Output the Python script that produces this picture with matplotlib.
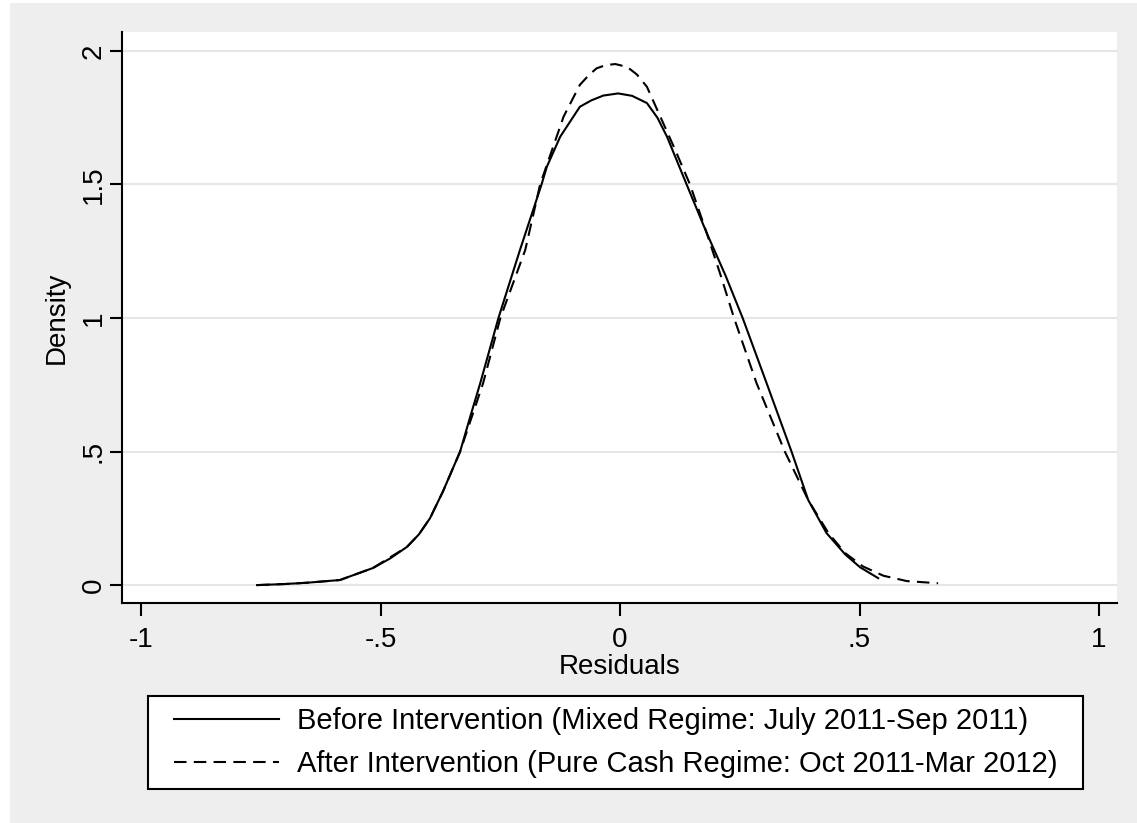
import matplotlib
matplotlib.use("Agg")
import matplotlib.pyplot as plt
from matplotlib.patches import Rectangle

plt.rcParams["font.family"] = ["Liberation Sans", "DejaVu Sans"]

# kernel density of residuals
before_x = [-0.758, -0.70, -0.653, -0.585, -0.516, -0.48, -0.445, -0.42, -0.397, -0.37,
            -0.334, -0.313, -0.292, -0.254, -0.209, -0.164, -0.153, -0.125, -0.084, -0.06,
            -0.035, -0.004, 0.025, 0.056, 0.078, 0.098, 0.139, 0.181, 0.22, 0.256,
            0.306, 0.358, 0.393, 0.431, 0.47, 0.501, 0.539]
before_d = [0.0, 0.004, 0.009, 0.019, 0.064, 0.10, 0.143, 0.19, 0.25, 0.35,
            0.5, 0.63, 0.756, 1.0, 1.255, 1.5, 1.566, 1.679, 1.791, 1.815,
            1.833, 1.841, 1.832, 1.805, 1.75, 1.679, 1.5, 1.318, 1.16, 1.0,
            0.756, 0.5, 0.318, 0.195, 0.115, 0.067, 0.026]

after_x = [-0.758, -0.70, -0.653, -0.585, -0.516, -0.445, -0.42, -0.397, -0.37, -0.334,
           -0.286, -0.25, -0.198, -0.167, -0.118, -0.084, -0.065, -0.049, -0.03, -0.01,
           0.015, 0.035, 0.056, 0.087, 0.115, 0.146, 0.181, 0.21, 0.238, 0.285,
           0.344, 0.393, 0.435, 0.47, 0.507, 0.55, 0.599, 0.664]
after_d = [0.0, 0.004, 0.009, 0.019, 0.064, 0.143, 0.19, 0.25, 0.35, 0.5,
           0.756, 1.0, 1.255, 1.5, 1.754, 1.873, 1.91, 1.935, 1.947, 1.951,
           1.94, 1.912, 1.866, 1.742, 1.63, 1.5, 1.318, 1.16, 1.0, 0.756,
           0.5, 0.318, 0.195, 0.12, 0.07, 0.035, 0.015, 0.007]

labels = ["Before Intervention (Mixed Regime: July 2011-Sep 2011)",
          "After Intervention (Pure Cash Regime: Oct 2011-Mar 2012)"]
x_ticks = [-1, -0.5, 0, 0.5, 1]
x_ticklabels = ["-1", "-.5", "0", ".5", "1"]
y_ticks = [0, 0.5, 1, 1.5, 2]
y_ticklabels = ["0", ".5", "1", "1.5", "2"]

W, H = 1137, 823
fig = plt.figure(figsize=(W / 100, H / 100), dpi=100, facecolor="white")
fig.patches.append(Rectangle((10 / W, 0), 1, 1 - 3 / H, transform=fig.transFigure,
                             facecolor="#EEEEEE", edgecolor="none", zorder=-10))

ax = fig.add_axes([122 / W, 1 - 603 / H, (1117 - 122) / W, (603 - 32) / H])
ax.set_facecolor("white")

ax.plot(before_x, before_d, color="black", lw=1.5, solid_joinstyle="round", label=labels[0])
ax.plot(after_x, after_d, color="black", lw=1.5, ls=(0, (6, 3.5)), label=labels[1])

ax.set_xlim(-1.04, 1.0376)
ax.set_ylim(-0.067, 2.071)
ax.set_xticks(x_ticks)
ax.set_xticklabels(x_ticklabels)
ax.set_yticks(y_ticks)
ax.set_yticklabels(y_ticklabels, rotation=90, va="center")

ax.grid(axis="y", color="#E6E6E6", lw=1.5)
ax.set_axisbelow(True)
for s in ["top", "right"]:
    ax.spines[s].set_visible(False)
for s in ["left", "bottom"]:
    ax.spines[s].set_linewidth(1.5)
ax.tick_params(axis="both", length=9, width=1.5, labelsize=20)
ax.tick_params(axis="x", pad=8)
ax.tick_params(axis="y", pad=2)

ax.set_xlabel("Residuals", fontsize=20, labelpad=1)
ax.set_ylabel("Density", fontsize=20, labelpad=8)

# legend box drawn as its own rectangle so it can be as wide as Stata's
fig.patches.append(Rectangle((148 / W, 1 - 789 / H), (1083 - 148) / W, 93 / H,
                             transform=fig.transFigure, facecolor="white",
                             edgecolor="black", lw=1.5, zorder=1))
leg = fig.legend(loc="center", bbox_to_anchor=(615.5 / W, 1 - 742.5 / H), fontsize=21,
                 frameon=False, handlelength=3.6, labelspacing=0.5, borderpad=0.4,
                 handletextpad=0.6)
leg.set_zorder(2)

fig.savefig("out.png", dpi=100, facecolor=fig.get_facecolor())
